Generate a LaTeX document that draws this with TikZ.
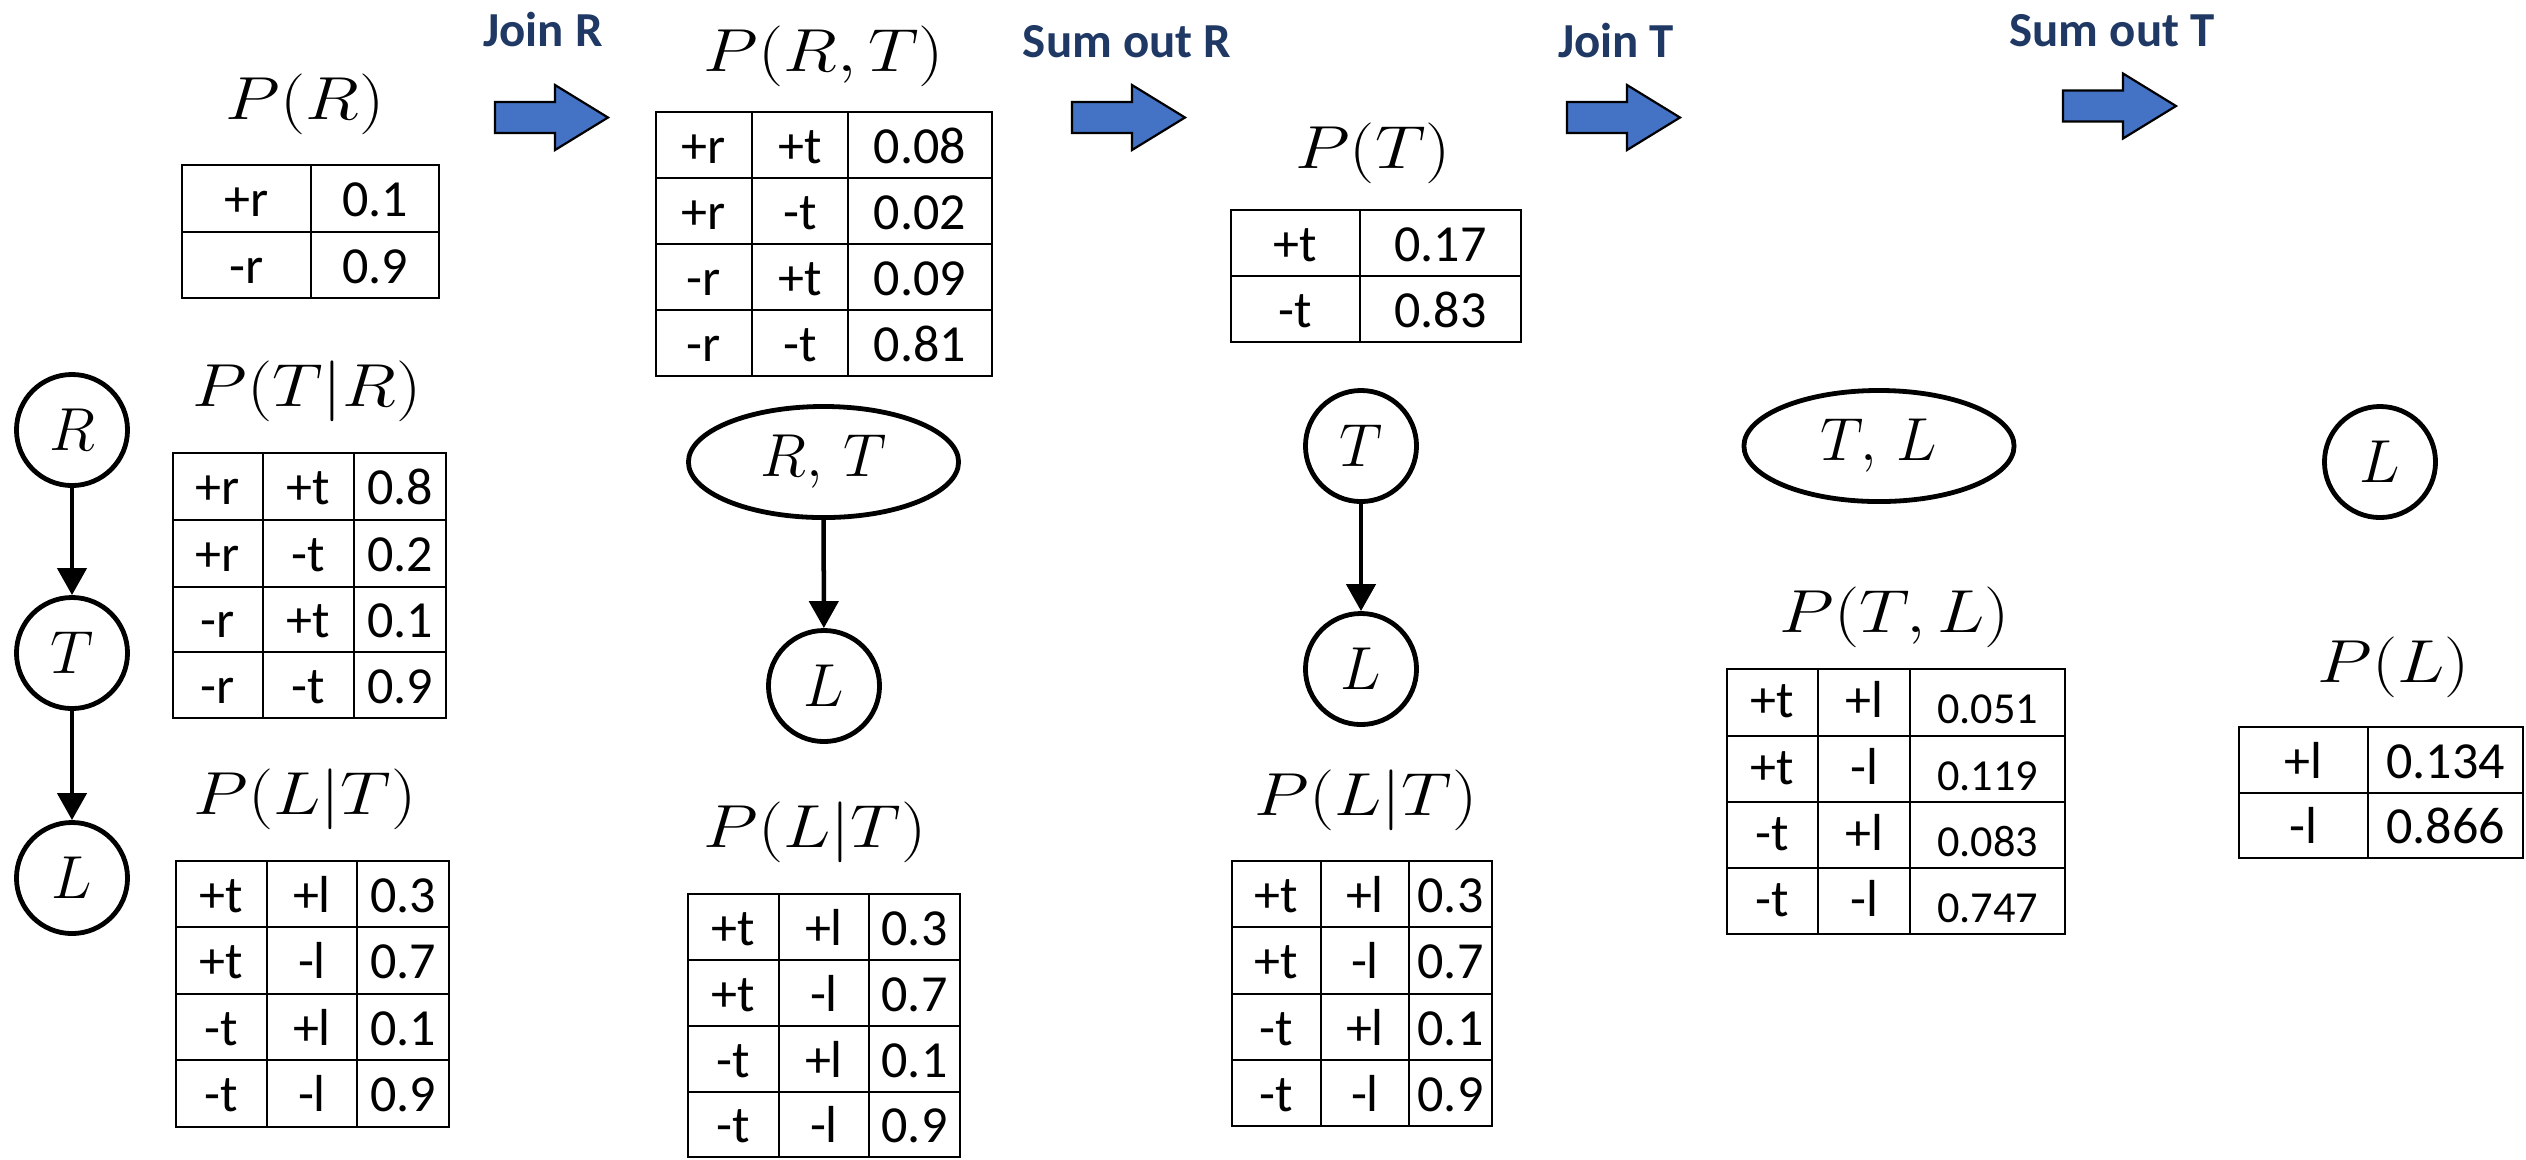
\documentclass[tikz,border=0pt]{standalone}
\usepackage{fontspec}
\newfontfamily\carlito{Carlito}
\usepackage{graphicx}
\usetikzlibrary{arrows.meta,shapes.geometric}
\definecolor{navy}{HTML}{1F3864}
\definecolor{ablue}{HTML}{4472C4}
\tikzset{
 tabline/.style={line width=0.024cm},
 cell/.style={anchor=base, inner sep=0pt, font=\carlito\fontsize{14.8}{17}\selectfont},
 cellsm/.style={anchor=base, inner sep=0pt, font=\carlito\fontsize{12.6}{15}\selectfont},
 plabel/.style={anchor=base, inner sep=0pt, font=\fontsize{17.3}{20}\selectfont},
 var/.style={draw, line width=0.048cm, circle, minimum size=1.11cm, inner sep=0pt, font=\fontsize{17.5}{20}\selectfont},
 joint/.style={draw, line width=0.048cm, ellipse, minimum width=2.70cm, minimum height=1.11cm, inner sep=0pt, font=\fontsize{17.5}{20}\selectfont},
 edge/.style={line width=0.045cm, -{Triangle[length=0.27cm,width=0.29cm]}},
 oplabel/.style={anchor=base, inner sep=0pt, text=navy, font=\carlito\bfseries\fontsize{13.9}{16}\selectfont},
 blockarrow/.style={fill=ablue, draw=black, line width=0.022cm, line join=miter},
}
\newcommand{\opArrow}[2]{\draw[blockarrow] (#1,#2) ++(0,-15.5) -- ++(60,0) -- ++(0,-17) -- ++(53,32.5) -- ++(-53,32.5) -- ++(0,-17) -- ++(-60,0) -- cycle;}
\newcommand{\tabgrid}[6]{%
 \draw[tabline] (#1,#3) rectangle (#2,#4);
 \foreach \gx in {#5} \draw[tabline] (\gx,#3) -- (\gx,#4);
 \foreach \gy in {#6} \draw[tabline] (#1,\gy) -- (#2,\gy);
}
\newcommand{\trow}[3]{\foreach \cx/\ct [count=\ci] in {#3} \node[cell] (#1-\ci) at (\cx,#2) {\ct};}
\newcommand{\sx}[1]{\scalebox{1.17}[1]{$#1$}}
\begin{document}
\begin{tikzpicture}[x=0.01cm, y=-0.01cm]
\fill[white] (0,0) rectangle (2526,1159);
\useasboundingbox (0,0) rectangle (2526,1159);

% operation labels and block arrows
\node[oplabel] (opJR) at (543,46) {Join R};
\node[oplabel] (opSR) at (1127,57) {Sum out R};
\node[oplabel] (opJT) at (1616,57) {Join T};
\node[oplabel] (opST) at (2112,46) {Sum out T};
\opArrow{495}{117.5}
\opArrow{1072}{117.5}
\opArrow{1567}{117.5}
\opArrow{2063}{106}

% ---------- column 1 ----------
\node[var] (R1) at (72,430) {$R$};
\node[var] (T1) at (72,653) {$T$};
\node[var] (L1) at (72,878) {$L$};
\draw[edge] (R1) -- (T1);
\draw[edge] (T1) -- (L1);

\node[plabel] (lPR) at (305,119) {\sx{P(R)}};
\tabgrid{182}{439}{165}{298}{311}{232}
\trow{pr1}{216.5}{246.5/+r, 375/0.1}
\trow{pr2}{283}{246.5/-r, 375/0.9}

\node[plabel] (lPTR) at (307,406) {\sx{P(T|R)}};
\tabgrid{173}{446}{453}{718}{263,354}{520,587,652}
\trow{ptr1}{504.5}{218/+r, 308.5/+t, 400/0.8}
\trow{ptr2}{571.5}{218/+r, 308.5/-t, 400/0.2}
\trow{ptr3}{637.5}{218/-r, 308.5/+t, 400/0.1}
\trow{ptr4}{703}{218/-r, 308.5/-t, 400/0.9}

\node[plabel] (lPLT1) at (305,814) {\sx{P(L|T)}};
\tabgrid{176}{449}{861}{1127}{267,357}{927,994,1060}
\trow{plta1}{912}{221.5/+t, 312/+l, 403/0.3}
\trow{plta2}{978.5}{221.5/+t, 312/-l, 403/0.7}
\trow{plta3}{1045}{221.5/-t, 312/+l, 403/0.1}
\trow{plta4}{1111.5}{221.5/-t, 312/-l, 403/0.9}

% ---------- column 2 ----------
\node[plabel] (lPRT) at (824,71) {\sx{P(R,T)}};
\tabgrid{656}{992}{112}{376}{752,848}{178,244,310}
\trow{prt1}{163}{704/+r, 800/+t, 920/0.08}
\trow{prt2}{229}{704/+r, 800/-t, 920/0.02}
\trow{prt3}{295}{704/-r, 800/+t, 920/0.09}
\trow{prt4}{361}{704/-r, 800/-t, 920/0.81}

\node[joint] (RT2) at (823.5,462) {$R,\,T$};
\node[var] (L2) at (824,686) {$L$};
\draw[edge] (RT2) -- (L2);

\node[plabel] (lPLT2) at (815,847) {\sx{P(L|T)}};
\tabgrid{688}{960}{894}{1157}{779,869}{960,1026,1092}
\trow{pltb1}{945}{733.5/+t, 824/+l, 914.5/0.3}
\trow{pltb2}{1011}{733.5/+t, 824/-l, 914.5/0.7}
\trow{pltb3}{1077}{733.5/-t, 824/+l, 914.5/0.1}
\trow{pltb4}{1142.5}{733.5/-t, 824/-l, 914.5/0.9}

% ---------- column 3 ----------
\node[plabel] (lPT) at (1373,168) {\sx{P(T)}};
\tabgrid{1231}{1521}{210}{342}{1360}{276}
\trow{pt1}{261}{1295.5/+t, 1440.5/0.17}
\trow{pt2}{327}{1295.5/-t, 1440.5/0.83}

\node[var] (T3) at (1361,446) {$T$};
\node[var] (L3) at (1361,669) {$L$};
\draw[edge] (T3) -- (L3);

\node[plabel] (lPLT3) at (1366,815) {\sx{P(L|T)}};
\tabgrid{1232}{1492}{861}{1126}{1321,1409}{927,994,1060}
\trow{pltc1}{912}{1276.5/+t, 1365/+l, 1450.5/0.3}
\trow{pltc2}{978.5}{1276.5/+t, 1365/-l, 1450.5/0.7}
\trow{pltc3}{1045}{1276.5/-t, 1365/+l, 1450.5/0.1}
\trow{pltc4}{1111.5}{1276.5/-t, 1365/-l, 1450.5/0.9}

% ---------- column 4 ----------
\node[joint] (TL4) at (1879,446) {$T,\,L$};
\node[plabel] (lPTL) at (1895,632) {\sx{P(T,L)}};
\tabgrid{1727}{2065}{669}{934}{1818,1910}{736,802,868}
\trow{ptl1}{717.5}{1772.5/+t, 1864/+l}
\trow{ptl2}{784}{1772.5/+t, 1864/-l}
\trow{ptl3}{850}{1772.5/-t, 1864/+l}
\trow{ptl4}{916}{1772.5/-t, 1864/-l}
\node[cellsm] (ptl1-3) at (1987.5,723.5) {0.051};
\node[cellsm] (ptl2-3) at (1987.5,790) {0.119};
\node[cellsm] (ptl3-3) at (1987.5,856) {0.083};
\node[cellsm] (ptl4-3) at (1987.5,922) {0.747};

% ---------- column 5 ----------
\node[var] (L5) at (2380,462) {$L$};
\node[plabel] (lPL) at (2394,682) {\sx{P(L)}};
\tabgrid{2239}{2523}{727}{858}{2368}{793}
\trow{pl1}{778}{2303.5/+l, 2445.5/0.134}
\trow{pl2}{843.5}{2303.5/-l, 2445.5/0.866}
\end{tikzpicture}
\end{document}
